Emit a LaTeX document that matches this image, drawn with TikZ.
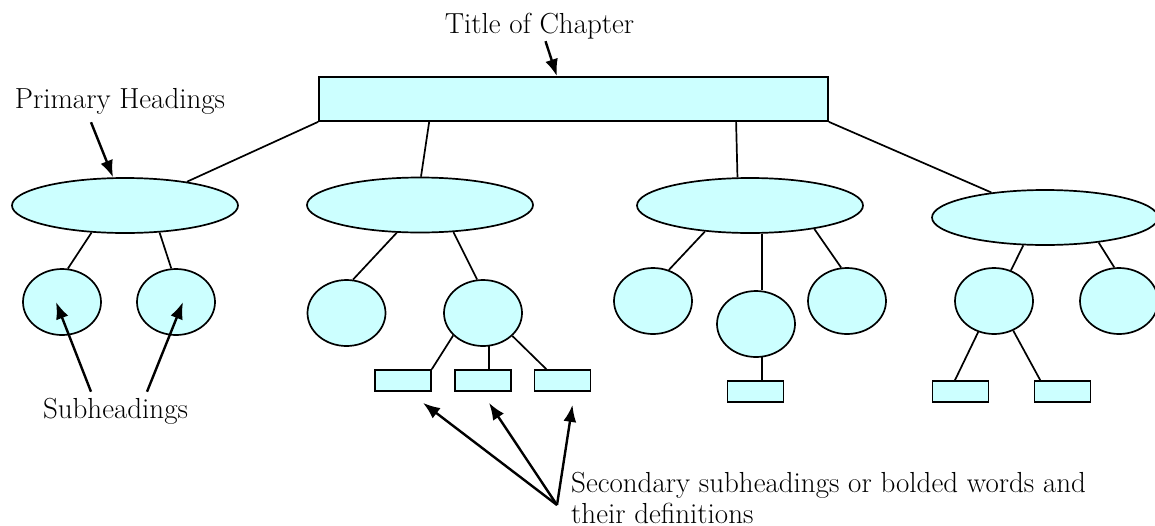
\documentclass[tikz,border=0pt]{standalone}
\usetikzlibrary{arrows.meta,shapes.geometric}
\definecolor{chapCyan}{HTML}{CCFFFF}

\begin{document}
\begin{tikzpicture}[x=1pt,y=-1pt,>={Latex[length=17pt,width=13pt]},line width=1.7pt,font=\fontsize{29}{31}\selectfont]
\tikzstyle{chapbox}=[draw,fill=chapCyan,inner sep=0pt,minimum width=509pt,minimum height=44pt]
\tikzstyle{headnode}=[draw,fill=chapCyan,ellipse,inner sep=0pt,minimum width=226pt,minimum height=55pt]
\tikzstyle{subnode}=[draw,fill=chapCyan,ellipse,inner sep=0pt,minimum width=78pt,minimum height=66pt]
\tikzstyle{defbox}=[draw,fill=chapCyan,inner sep=0pt,minimum width=56pt,minimum height=21pt]
\tikzstyle{pointer}=[->,line width=2.4pt]
\useasboundingbox (0,0) rectangle (1155,525);
% chapter box and primary headings
\node[chapbox] (title) at (573.5,99) {};
\node[headnode] (prim1) at (125,205.5) {};
\node[headnode] (prim2) at (420,205) {};
\node[headnode] (prim3) at (750,205.5) {};
\node[headnode] (prim4) at (1045,217.5) {};
% subheadings
\node[subnode] (sub1) at (62,302) {};
\node[subnode] (sub2) at (176,302) {};
\node[subnode] (sub3) at (346.5,313) {};
\node[subnode] (sub4) at (483,313) {};
\node[subnode] (sub5) at (653,301) {};
\node[subnode] (sub6) at (756,324) {};
\node[subnode] (sub7) at (847,301) {};
\node[subnode] (sub8) at (994,301) {};
\node[subnode] (sub9) at (1119,301) {};
% secondary subheadings
\node[defbox] (def1) at (403,380.5) {};
\node[defbox] (def2) at (483,380.5) {};
\node[defbox] (def3) at (562.5,380.5) {};
\node[defbox] (def4) at (755.5,391.5) {};
\node[defbox] (def5) at (960.5,391.5) {};
\node[defbox] (def6) at (1062.5,391.5) {};
\foreach \a/\b in {title.south west/prim1.21,title.189/prim2.88,title.-8.5/prim3.114,title.south east/prim4.155,
  prim1.219/sub1.80,prim1.-38/sub2.98,prim2.230/sub3.79,prim2.-39/sub4.100,
  prim3.210/sub5.63,prim3.-20/sub7.100,prim4.232/sub8.61,prim4.-25/sub9.98,
  sub4.217/def1.north east,sub4.-38/def3.145,sub8.243/def5.116,sub8.-57/def6.153}{\draw (\a) -- (\b);}
\draw (sub4.-80) -- (sub4.-80 |- def2.north);
\draw (prim3.-67) -- (prim3.-67 |- sub6.north);
\draw (sub6.-80) -- (sub6.-80 |- def4.north);
% labels
\node (ttlText) at (539.5,26) {Title of Chapter};
\node (primText) at (120,101) {Primary Headings};
\node (subText) at (115.5,411) {Subheadings};
\node[anchor=north west,align=left] (secText) at (567,468.5) {Secondary subheadings or bolded words and\\their definitions};
\draw[pointer] ([xshift=6pt,yshift=2pt]ttlText.south) -- (title.126.5);
\draw[pointer] ([xshift=-29pt,yshift=-4pt]primText.south) -- (prim1.113);
\draw[pointer] ([xshift=-24.5pt,yshift=2pt]subText.north) -- ([xshift=-6pt]sub1.center);
\draw[pointer] ([xshift=31.5pt,yshift=2pt]subText.north) -- ([xshift=7pt]sub2.center);
\coordinate (secTail) at ([xshift=-10pt,yshift=-36.5pt]secText.north west);
\foreach \d/\dx/\dy in {def1/20/11,def2/6/11,def3/10/13}{\draw[pointer] (secTail) -- ([xshift=\dx pt,yshift=-\dy pt]\d.south);}
\end{tikzpicture}
\end{document}
